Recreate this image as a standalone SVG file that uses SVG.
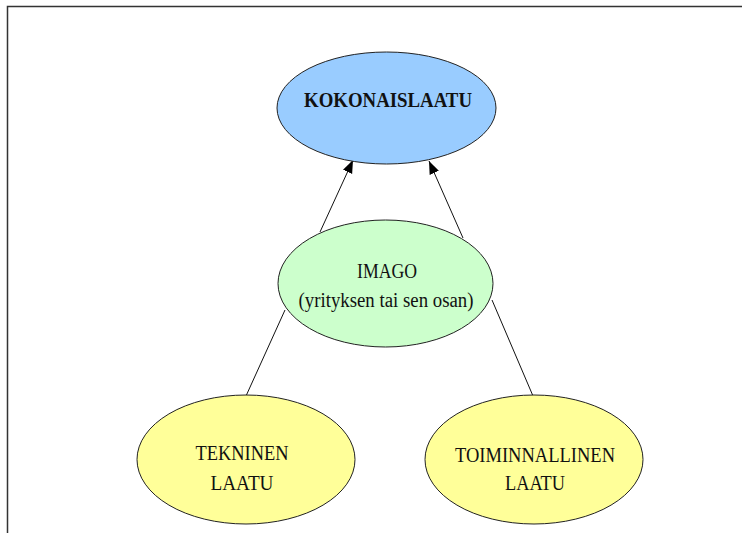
<svg xmlns="http://www.w3.org/2000/svg" width="742" height="533" viewBox="0 0 742 533">
<defs>
<style>
.node{stroke:#222;stroke-width:1}
.t{font-family:"Liberation Serif","Times New Roman",serif;font-size:20px;fill:#111;text-anchor:middle}
.b{font-weight:bold}
.edge{stroke:#111;stroke-width:1;fill:none}
</style>
<marker id="arr" markerUnits="userSpaceOnUse" markerWidth="14" markerHeight="12" viewBox="0 0 14 12" refX="13" refY="6" orient="auto">
<path d="M0,1 L13,6 L0,11 Z" fill="#000"/>
</marker>
</defs>
<rect width="742" height="533" fill="#fff"/>
<path d="M7.5,533 L7.5,6.5 L742,6.5" fill="none" stroke="#333" stroke-width="1.5"/>
<g id="connectors">
<line class="edge" x1="320" y1="232" x2="353" y2="160" marker-end="url(#arr)"/>
<line class="edge" x1="463" y1="238" x2="429" y2="161" marker-end="url(#arr)"/>
<line class="edge" x1="285" y1="310" x2="246" y2="396"/>
<line class="edge" x1="492" y1="300" x2="533" y2="396"/>
</g>
<g id="kokonaislaatu">
<ellipse class="node" cx="386.5" cy="108" rx="109.5" ry="56" fill="#99CCFF"/>
<text class="t b" x="388" y="107" textLength="168" lengthAdjust="spacingAndGlyphs">KOKONAISLAATU</text>
</g>
<g id="imago">
<ellipse class="node" cx="385.5" cy="283.5" rx="107.5" ry="63.5" fill="#CCFFCC"/>
<text class="t" x="387" y="278" textLength="60" lengthAdjust="spacingAndGlyphs">IMAGO</text>
<text class="t" x="386" y="307" textLength="175" lengthAdjust="spacingAndGlyphs">(yrityksen tai sen osan)</text>
</g>
<g id="tekninen">
<ellipse class="node" cx="246" cy="459.5" rx="109" ry="64.5" fill="#FFFF99"/>
<text class="t" x="242" y="460" textLength="93" lengthAdjust="spacingAndGlyphs">TEKNINEN</text>
<text class="t" x="242" y="490" textLength="63" lengthAdjust="spacingAndGlyphs">LAATU</text>
</g>
<g id="toiminnallinen">
<ellipse class="node" cx="534" cy="459.5" rx="109" ry="64.5" fill="#FFFF99"/>
<text class="t" x="535" y="462" textLength="160" lengthAdjust="spacingAndGlyphs">TOIMINNALLINEN</text>
<text class="t" x="535" y="490" textLength="60" lengthAdjust="spacingAndGlyphs">LAATU</text>
</g>
</svg>
